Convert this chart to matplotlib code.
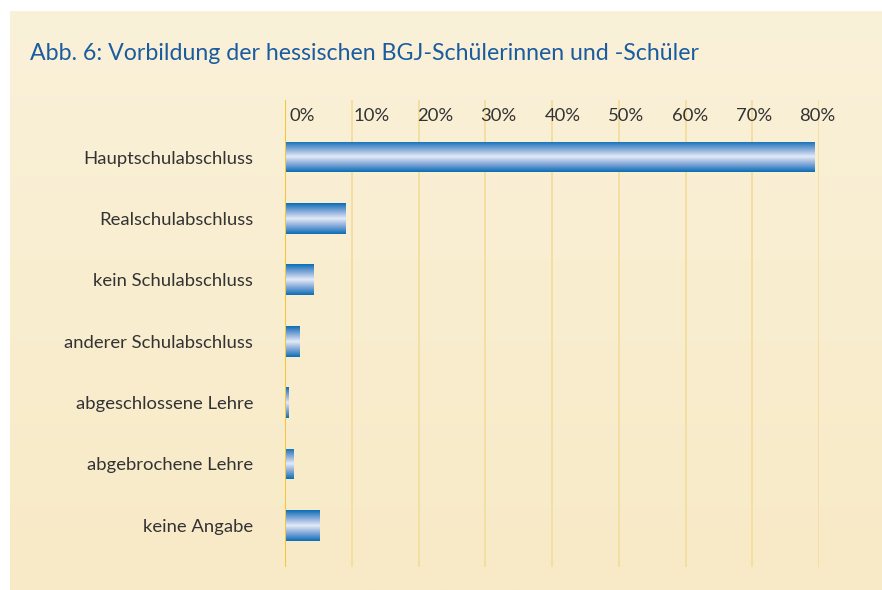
import matplotlib

matplotlib.use("Agg")

import matplotlib.pyplot as plt
import numpy as np
from matplotlib.colors import LinearSegmentedColormap

categories = [
    "Hauptschulabschluss",
    "Realschulabschluss",
    "kein Schulabschluss",
    "anderer Schulabschluss",
    "abgeschlossene Lehre",
    "abgebrochene Lehre",
    "keine Angabe",
]
shares = [79.4, 9.1, 4.2, 2.2, 0.5, 1.2, 5.2]
ticks = [0, 10, 20, 30, 40, 50, 60, 70, 80]
tick_labels = ["0%", "10%", "20%", "30%", "40%", "50%", "60%", "70%", "80%"]

TITLE = "Abb. 6: Vorbildung der hessischen BGJ-Schülerinnen und -Schüler"
W, H = 882, 590

plt.rcParams["font.family"] = ["Lato", "DejaVu Sans"]

fig = plt.figure(figsize=(W / 100, H / 100), dpi=100, facecolor="white")

# cream panel with a soft vertical gradient
bg = fig.add_axes([10 / W, 0, 1 - 10 / W, 1 - 11 / H])
bg.set_axis_off()
grad = np.linspace(0, 1, 256).reshape(-1, 1)
bg_cmap = LinearSegmentedColormap.from_list("bg", ["#FAF1D9", "#F8EAC6"])
bg.imshow(grad, aspect="auto", cmap=bg_cmap, extent=[0, 1, 0, 1], origin="upper")
bg.set_xlim(0, 1)
bg.set_ylim(0, 1)

fig.text(30 / W, 1 - 53 / H, TITLE, fontsize=16.7, color="#1A5CA0", ha="left", va="center")

ax = fig.add_axes([285 / W, 23 / H, 534 / W, 467 / H])
ax.patch.set_alpha(0)
for s in ax.spines.values():
    s.set_visible(False)

ypos = np.arange(len(categories))
bars = ax.barh(ypos, shares, height=0.5, color="#2C7BC0", lw=0)

bar_cmap = LinearSegmentedColormap.from_list(
    "bar", ["#0A6DB5", "#7FA6D8", "#E4EAF6", "#7FA6D8", "#0A6DB5"]
)
for b in bars:
    x0, y0, w, h = b.get_x(), b.get_y(), b.get_width(), b.get_height()
    im = ax.imshow(grad, aspect="auto", cmap=bar_cmap, extent=[x0, x0 + w, y0 + h, y0],
                   origin="upper", zorder=3)
    im.set_clip_path(b)

ax.set_xlim(0, 80)
ax.set_ylim(6.68, -0.93)

for t in ticks[1:]:
    ax.axvline(t, color="#F4DFA2", lw=1.4, zorder=1)
ax.axvline(0, color="#F2C83A", lw=1.5, zorder=4)

# the tick labels sit on a slightly tighter spacing than the gridlines
for t, lab in zip(ticks, tick_labels):
    ax.annotate(lab, xy=(t * 0.955, -0.93), xytext=(3.2, -5.5), textcoords="offset points",
                ha="left", va="top", fontsize=13.3, color="#333333", annotation_clip=False)

ax.set_xticks([])
ax.set_yticks(ypos)
ax.set_yticklabels(categories, fontsize=13.3, color="#333333")
ax.tick_params(axis="y", length=0, pad=23)

fig.savefig("out.png", dpi=100, facecolor="white")
